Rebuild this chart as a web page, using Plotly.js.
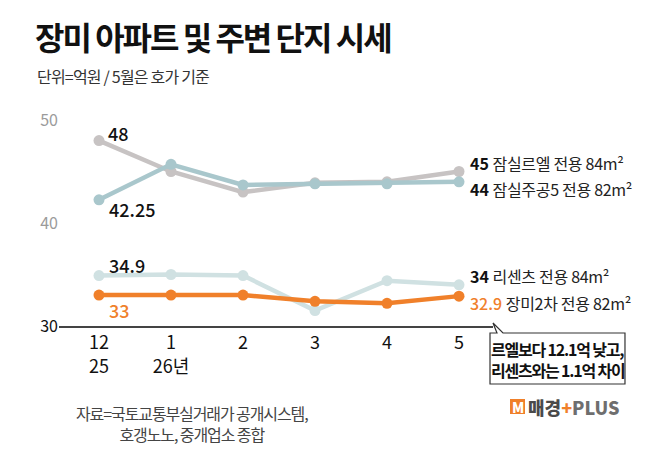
<!DOCTYPE html>
<html><head><meta charset="utf-8">
<script src="https://cdn.plot.ly/plotly-3.0.1.min.js"></script>
<style>html,body{margin:0;padding:0;background:#fff}</style>
</head><body><div id="chart" style="width:658px;height:451px"></div>
<script>
// ---- data ----
const months = ['12<br>25', '1<br>26년', '2', '3', '4', '5'];
const monthIdx = [0, 1, 2, 3, 4, 5];
const seriesNames = ['잠실르엘 전용 84m²', '잠실주공5 전용 82m²', '리센츠 전용 84m²', '장미2차 전용 82m²'];
const rlel = [48, 45, 43, 43.9, 44, 45];
const jugong = [42.25, 45.7, 43.7, 43.8, 43.8, 44];
const resents = [34.9, 35, 34.9, 31.5, 34.4, 34];
const jangmi = [33, 33, 33, 32.4, 32.2, 32.9];
const yTicks = [30, 40, 50];
const titleText = '장미 아파트 및 주변 단지 시세';
const subtitleText = '단위=억원 / 5월은 호가 기준';
const sourceText = '자료=국토교통부실거래가 공개시스템,<br>호갱노노, 중개업소 종합';
const calloutText = '르엘보다 12.1억 낮고,<br>리센츠와는 1.1억 차이';

// ---- styles ----
const FONT = 'Noto Sans CJK KR, Noto Sans, sans-serif';
const seriesData = [rlel, jugong, resents, jangmi];
const colors = ['#c7c3c3', '#a9c7cc', '#d0e1e2', '#f0802a'];
const numColors = ['#111', '#111', '#111', '#f0802a'];
const leftShift = [[7, 8], [8, -9], [8, 11], [8, -15]];
const rightYShift = [9, -7, 9, -7];

const L = 59, R = 493, T = 100, B = 326;
const px = x => (x - L) / (R - L);
const py = y => (B - y) / (B - T);

const traces = seriesData.map((d, i) => ({
  x: monthIdx, y: d, type: 'scatter', mode: 'lines+markers',
  line: {color: colors[i], width: 4.5},
  marker: {color: colors[i], size: 11},
  hoverinfo: 'skip', showlegend: false
}));

const annotations = [];
seriesData.forEach((d, i) => {
  annotations.push({
    x: monthIdx[0], y: d[0], xref: 'x', yref: 'y', showarrow: false,
    text: String(d[0]), xanchor: 'left', yanchor: 'middle',
    xshift: leftShift[i][0], yshift: leftShift[i][1],
    font: {family: FONT, size: 18, color: numColors[i], weight: 500}
  });
  const n = d.length - 1;
  annotations.push({
    x: monthIdx[n], y: d[n], xref: 'x', yref: 'y', showarrow: false,
    text: `<span style="color:${numColors[i]};font-weight:${i === 3 ? 500 : 700}">${d[n]}</span> <span style="letter-spacing:-0.3px">${seriesNames[i]}</span>`,
    xanchor: 'left', yanchor: 'middle', xshift: 9, yshift: rightYShift[i],
    font: {family: FONT, size: 16, color: '#222', weight: 400}
  });
});

annotations.push({
  xref: 'paper', yref: 'paper', x: px(35), y: py(76), xanchor: 'left', yanchor: 'middle',
  showarrow: false, text: `<span style="letter-spacing:-0.8px">${subtitleText}</span>`,
  font: {family: FONT, size: 16, color: '#333'}
});
annotations.push({
  xref: 'paper', yref: 'paper', x: px(192), y: py(423), xanchor: 'center', yanchor: 'middle',
  showarrow: false, align: 'center',
  text: sourceText.split('<br>').map(s => `<span style="letter-spacing:-1.1px">${s}</span>`).join('<br>'),
  font: {family: FONT, size: 16, color: '#444'}
});
annotations.push({
  xref: 'paper', yref: 'paper', x: px(557.5), y: py(359), xanchor: 'center', yanchor: 'middle',
  showarrow: false, align: 'left',
  text: calloutText.split('<br>').map(s => `<span style="letter-spacing:-1.2px">${s}</span>`).join('<br>'),
  font: {family: FONT, size: 16, color: '#111', weight: 700}
});
// logo
annotations.push({
  xref: 'paper', yref: 'paper', x: px(517.5), y: py(406.5), xanchor: 'center', yanchor: 'middle',
  showarrow: false, text: 'M', font: {family: FONT, size: 14, color: '#fff', weight: 900}
});
annotations.push({
  xref: 'paper', yref: 'paper', x: px(526), y: py(407), xanchor: 'left', yanchor: 'middle',
  showarrow: false,
  text: '매경<span style="color:#f0802a">+</span><span style="color:#6e6e6e">PLUS</span>',
  font: {family: FONT, size: 18, color: '#4a4a4a', weight: 900}
});

const pts = [[490,333],[497,333],[493,323],[503,333],[625,333],[625,384],[490,384]];
const calloutPath = 'M' + pts.map(p => px(p[0]).toFixed(4) + ',' + py(p[1]).toFixed(4)).join(' L') + ' Z';

const shapes = [
  {type: 'path', xref: 'paper', yref: 'paper', path: calloutPath,
   fillcolor: '#fff', line: {color: '#333', width: 1.2}, layer: 'above'},
  {type: 'rect', xref: 'paper', yref: 'paper', x0: px(510), x1: px(525), y0: py(414), y1: py(399),
   fillcolor: '#f0802a', line: {width: 0}}
];

const layout = {
  width: 658, height: 451,
  margin: {l: L, r: 658 - R, t: T, b: 451 - B, pad: 0},
  paper_bgcolor: '#fff', plot_bgcolor: '#fff',
  title: {
    text: `<span style="letter-spacing:-2px">${titleText}</span>`,
    xref: 'container', yref: 'container', x: 35 / 658, y: 1 - 39 / 451,
    xanchor: 'left', yanchor: 'middle',
    font: {family: FONT, size: 32, color: '#111', weight: 700}
  },
  xaxis: {
    type: 'linear', range: [-40 / 72, (R - 99) / 72],
    tickvals: monthIdx, ticktext: months, ticks: '',
    showgrid: false, zeroline: false, showline: true, linecolor: '#444', linewidth: 1.5,
    tickfont: {family: FONT, size: 18, color: '#111'}, fixedrange: true
  },
  yaxis: {
    range: [30, 30 + (B - T) / 10.3],
    tickvals: yTicks,
    ticktext: yTicks.map(v => v === 30 ? String(v) : `<span style="color:#9b9b9b">${v}</span>`),
    ticks: '', showgrid: false, zeroline: false, showline: false,
    tickfont: {family: FONT, size: 16, color: '#111'}, fixedrange: true
  },
  annotations, shapes, showlegend: false
};

Plotly.newPlot('chart', traces, layout, {displayModeBar: false, staticPlot: true});
</script></body></html>
